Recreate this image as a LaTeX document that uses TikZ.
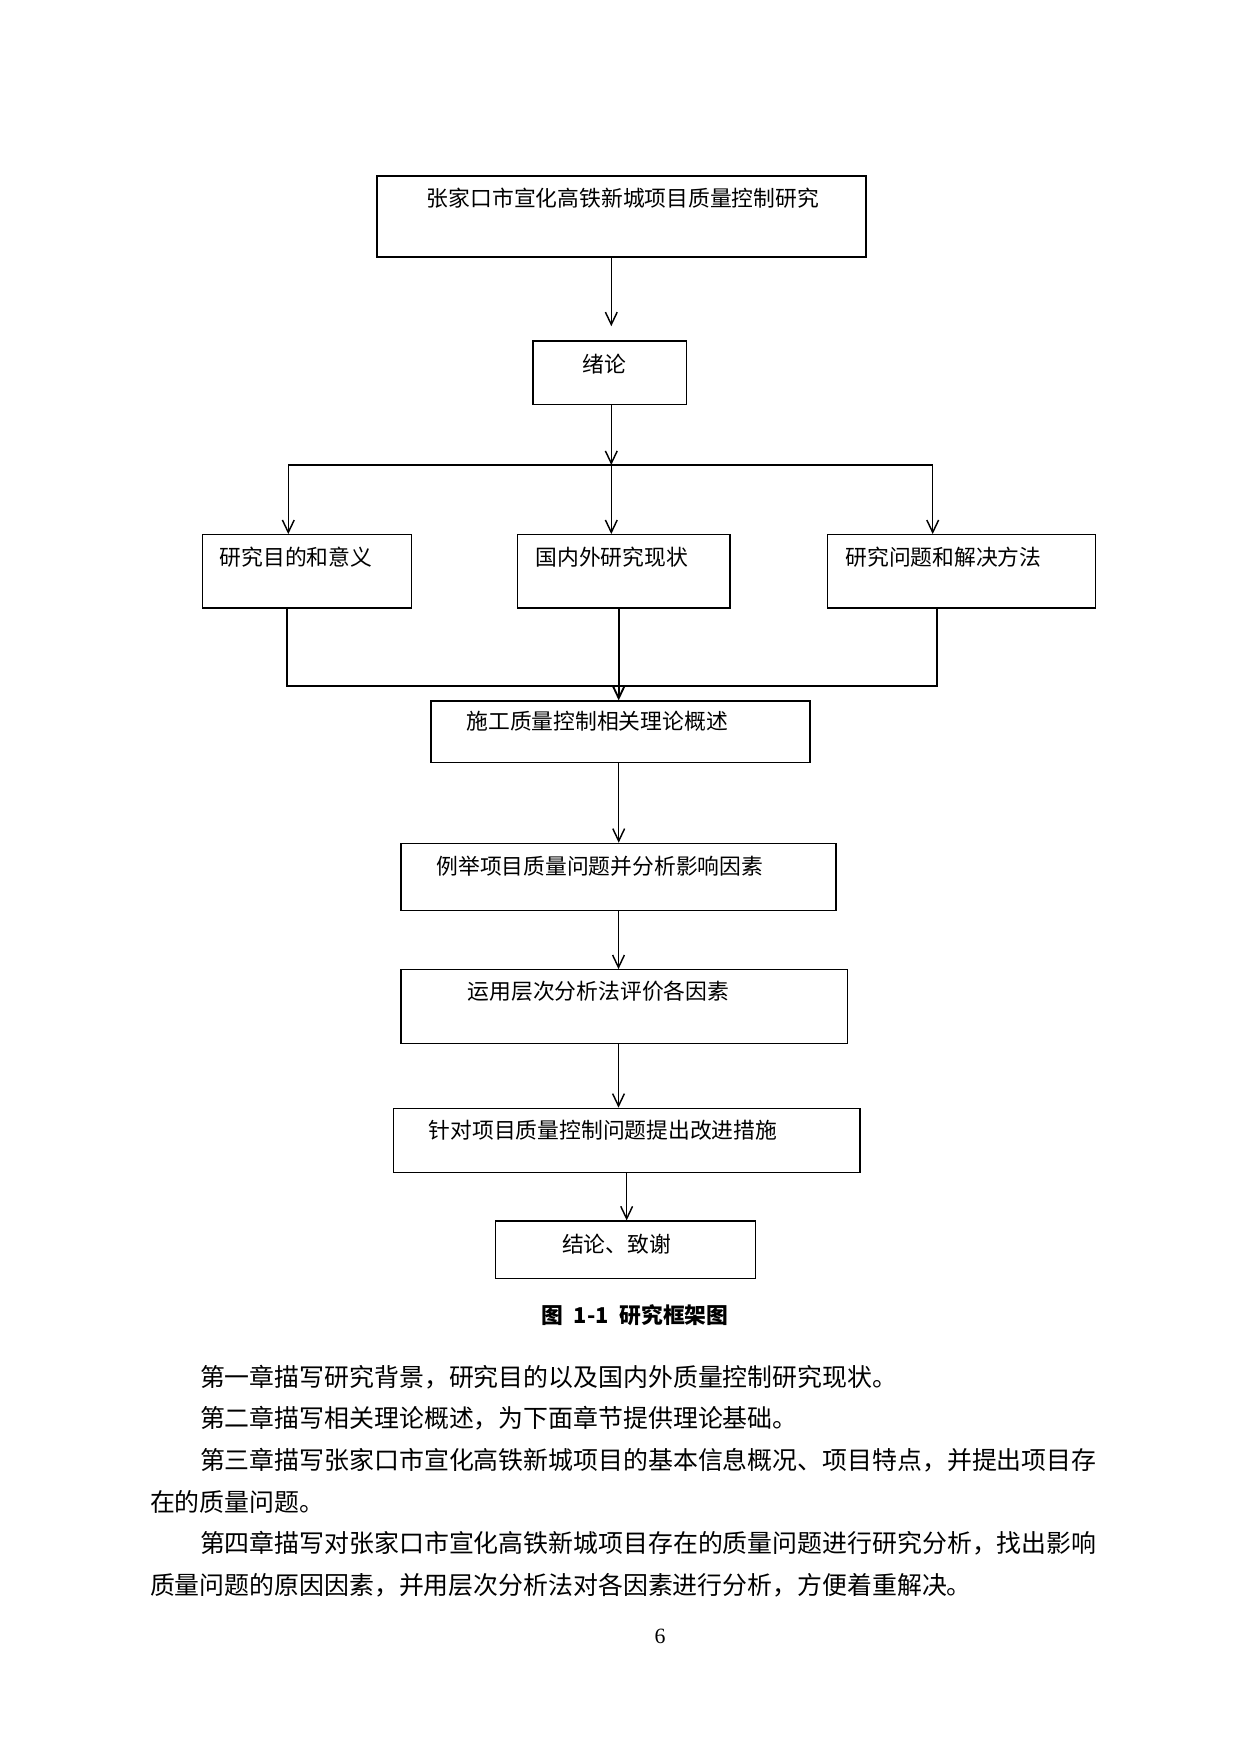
\documentclass[tikz,border=0pt]{standalone}
\usepackage{fontspec}
\setmainfont{Liberation Serif}
\newfontfamily\cjk{Noto Sans CJK SC}
\usepackage{tikz}
\usetikzlibrary{arrows.meta, positioning, calc}

\begin{document}
\begin{tikzpicture}[x=0.169355mm, y=-0.169355mm,
    box/.style={draw, line width=0.6pt, inner sep=0pt},
    lbl/.style={anchor=west, inner sep=0pt, font=\cjk\fontsize{10.5}{12}\selectfont},
    txt/.style={anchor=west, inner sep=0pt, font=\cjk\fontsize{12}{14}\selectfont},
    arr/.style={line width=0.7pt, -{Straight Barb[length=2.1mm, width=2mm]}},
    link/.style={line width=0.9pt}]
    \useasboundingbox (0,0) rectangle (1240,1754);

    % Boxes
    \node [box, minimum width=82.81mm, minimum height=13.72mm] (title) at (621.5,216.5) {};
    \node [box, minimum width=26.0mm, minimum height=10.79mm] (intro) at (609.75,372.85) {};
    \node [box, minimum width=35.4mm, minimum height=12.41mm] (goal) at (306.8,571.35) {};
    \node [box, minimum width=36.02mm, minimum height=12.41mm] (status) at (623.65,571.35) {};
    \node [box, minimum width=45.39mm, minimum height=12.41mm] (method) at (961.3,571.35) {};
    \node [box, minimum width=64.19mm, minimum height=10.45mm] (theory) at (620.5,731.85) {};
    \node [box, minimum width=73.67mm, minimum height=11.41mm] (factor) at (618.5,877) {};
    \node [box, minimum width=75.58mm, minimum height=12.46mm] (ahp) at (624.15,1006.5) {};
    \node [box, minimum width=79.04mm, minimum height=10.84mm] (measure) at (626.65,1140.3) {};
    \node [box, minimum width=43.96mm, minimum height=9.7mm] (concl) at (625.5,1249.65) {};

    % Box texts
    \node [lbl] (title-txt) at (426.5,198.3) {张家口市宣化高铁新城项目质量控制研究};
    \node [lbl] (intro-txt) at (582,364) {绪论};
    \node [lbl] (goal-txt) at (219.3,556.7) {研究目的和意义};
    \node [lbl] (status-txt) at (535,556.7) {国内外研究现状};
    \node [lbl] (method-txt) at (845,556.7) {研究问题和解决方法};
    \node [lbl] (theory-txt) at (466,721.7) {施工质量控制相关理论概述};
    \node [lbl] (factor-txt) at (436,866) {例举项目质量问题并分析影响因素};
    \node [lbl] (ahp-txt) at (467.3,991.7) {运用层次分析法评价各因素};
    \node [lbl] (measure-txt) at (428.3,1130.7) {针对项目质量控制问题提出改进措施};
    \node [lbl] (concl-txt) at (561.7,1244) {结论、致谢};

    % Branch and merge points
    \coordinate (split) at (611.3,465);
    \coordinate (splitL) at (288.3,465);
    \coordinate (splitR) at (932.7,465);
    \coordinate (mergeL) at (286.7,686.3);
    \coordinate (merge) at (618.7,686.3);
    \coordinate (mergeR) at (936.7,686.3);

    % Arrows
    \draw [arr, shorten >=2.4mm] (title.south -| split) -- (intro.north -| split);
    \draw [arr] (intro.south -| split) -- (split);
    \draw [line width=0.7pt] (splitL) -- (splitR);
    \draw [arr] (splitL) -- (splitL |- goal.north);
    \draw [arr] (split) -- (split |- status.north);
    \draw [arr] (splitR) -- (splitR |- method.north);
    \draw [link] (mergeL |- goal.south) -- (mergeL) -- (mergeR) -- (mergeR |- method.south);
    \draw [arr, line width=0.9pt] (merge |- status.south) -- (merge |- theory.north);
    \draw [arr] (theory.south -| merge) -- (factor.north -| merge);
    \draw [arr] (factor.south) -- (factor.south |- ahp.north);
    \draw [arr] (ahp.south -| factor.south) -- (measure.north -| factor.south);
    \draw [arr] (measure.south) -- (measure.south |- concl.north);

    % Caption
    \node [inner sep=0pt, font=\cjk\bfseries\fontsize{10.5}{12}\selectfont] (cap) at (634.8,1315) {图\hspace{0.5em}1-1\hspace{0.5em}研究框架图};

    % Text below
    \node [txt] (ch1) at (199.6,1376.7) {第一章描写研究背景，研究目的以及国内外质量控制研究现状。};
    \node [txt] (ch2) at (199.6,1418.3) {第二章描写相关理论概述，为下面章节提供理论基础。};
    \node [txt] (ch3a) at (199.6,1460) {第三章描写张家口市宣化高铁新城项目的基本信息概况、项目特点，并提出项目存};
    \node [txt] (ch3b) at (149.6,1501.7) {在的质量问题。};
    \node [txt] (ch4a) at (199.6,1543.3) {第四章描写对张家口市宣化高铁新城项目存在的质量问题进行研究分析，找出影响};
    \node [txt] (ch4b) at (149.6,1585) {质量问题的原因因素，并用层次分析法对各因素进行分析，方便着重解决。};

    % Page number
    \node [inner sep=0pt, font=\fontsize{10.5}{12}\selectfont] (pageno) at (660,1636.7) {6};
\end{tikzpicture}
\end{document}
